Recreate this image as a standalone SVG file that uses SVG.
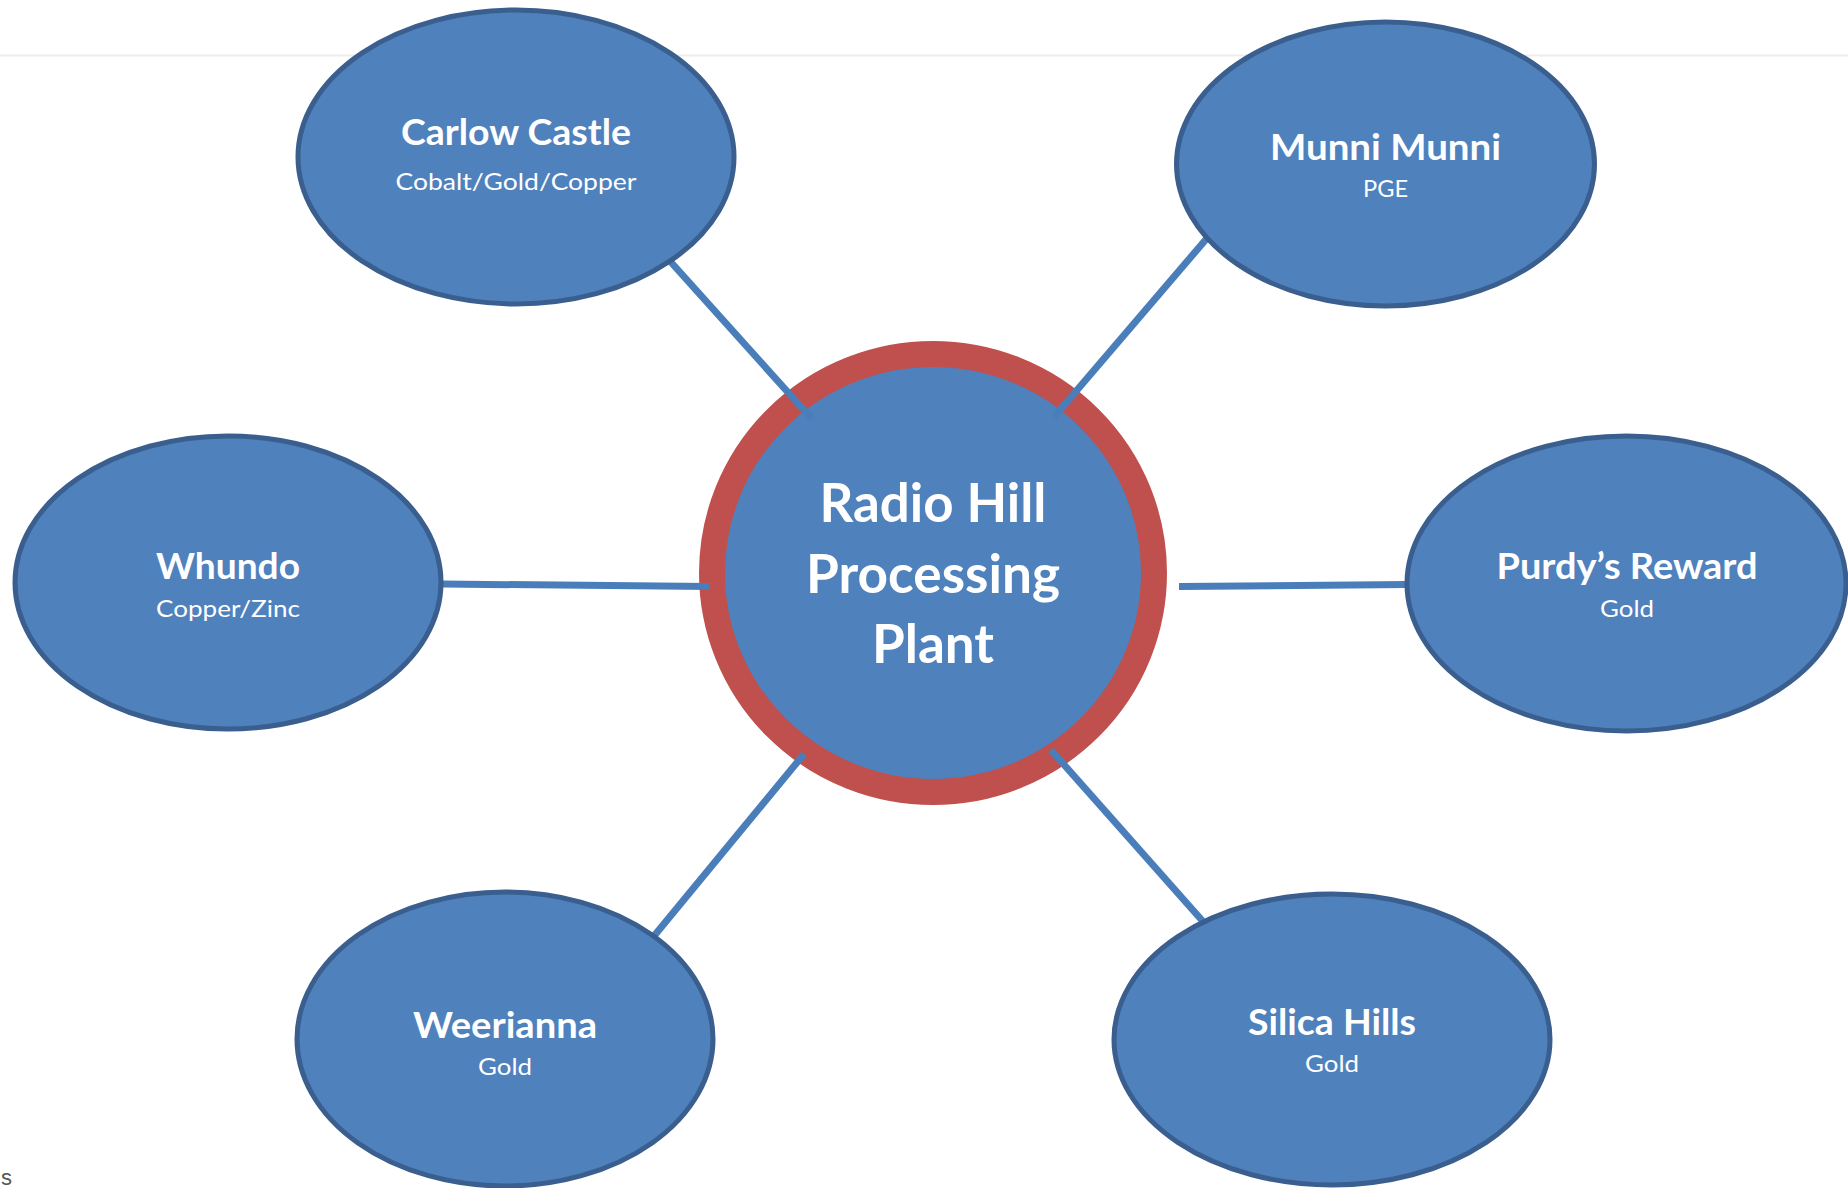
<svg xmlns="http://www.w3.org/2000/svg" width="1848" height="1188" viewBox="0 0 1848 1188">
<style>
.node{fill:#4f81bd;stroke:#3a5f8f;stroke-width:5}
.hub{fill:#4f81bd;stroke:#c0504d;stroke-width:26}
.conn{stroke:#4a7ebb;stroke-width:7;fill:none}
text{font-family:Lato,"Open Sans","Liberation Sans",sans-serif;fill:#ffffff;text-anchor:middle}
.t{font-weight:bold;font-size:36px}
.s{font-size:24px}
.h{font-weight:bold;font-size:53px}
</style>
<rect x="0" y="0" width="1848" height="1188" fill="#ffffff"/>
<line x1="0" y1="55.5" x2="1848" y2="55.5" stroke="#eeeeee" stroke-width="2"/>
<text x="1" y="1185" style="fill:#555555;font-family:'Liberation Sans',Arial,sans-serif;font-size:22px;text-anchor:start">s</text>
<g id="hub">
<ellipse class="hub" cx="933" cy="573" rx="221" ry="219"/>
<text class="h" x="933" y="522" textLength="227" lengthAdjust="spacingAndGlyphs">Radio Hill</text>
<text class="h" x="933" y="593" textLength="254" lengthAdjust="spacingAndGlyphs">Processing</text>
<text class="h" x="933" y="663" textLength="122" lengthAdjust="spacingAndGlyphs">Plant</text>
</g>
<g id="connectors">
<line class="conn" x1="669" y1="260" x2="812" y2="419"/>
<line class="conn" x1="1208" y1="237" x2="1054" y2="417"/>
<line class="conn" x1="442" y1="584" x2="710" y2="586.5"/>
<line class="conn" x1="1179" y1="586.5" x2="1407" y2="584.5"/>
<line class="conn" x1="804" y1="754" x2="654" y2="936"/>
<line class="conn" x1="1051" y1="750" x2="1207" y2="926"/>
</g>
<g id="carlow-castle">
<ellipse class="node" cx="516" cy="157" rx="218" ry="147"/>
<text class="t" x="516" y="145" textLength="230" lengthAdjust="spacingAndGlyphs">Carlow Castle</text>
<text class="s" x="516" y="190" textLength="241" lengthAdjust="spacingAndGlyphs">Cobalt/Gold/Copper</text>
</g>
<g id="munni-munni">
<ellipse class="node" cx="1385.5" cy="164" rx="209" ry="142"/>
<text class="t" x="1385.5" y="160" textLength="231" lengthAdjust="spacingAndGlyphs">Munni Munni</text>
<text class="s" x="1385.5" y="197" textLength="45" lengthAdjust="spacingAndGlyphs">PGE</text>
</g>
<g id="whundo">
<ellipse class="node" cx="228" cy="582.5" rx="213" ry="146.5"/>
<text class="t" x="228" y="579" textLength="144" lengthAdjust="spacingAndGlyphs">Whundo</text>
<text class="s" x="228" y="617" textLength="144" lengthAdjust="spacingAndGlyphs">Copper/Zinc</text>
</g>
<g id="purdys-reward">
<ellipse class="node" cx="1626.5" cy="583.5" rx="219.5" ry="147.5"/>
<text class="t" x="1627" y="579" textLength="261" lengthAdjust="spacingAndGlyphs">Purdy’s Reward</text>
<text class="s" x="1627" y="617" textLength="54" lengthAdjust="spacingAndGlyphs">Gold</text>
</g>
<g id="weerianna">
<ellipse class="node" cx="505" cy="1039" rx="208" ry="147"/>
<text class="t" x="505" y="1038" textLength="184" lengthAdjust="spacingAndGlyphs">Weerianna</text>
<text class="s" x="505" y="1075" textLength="54" lengthAdjust="spacingAndGlyphs">Gold</text>
</g>
<g id="silica-hills">
<ellipse class="node" cx="1332" cy="1039.5" rx="218" ry="145.5"/>
<text class="t" x="1332" y="1035" textLength="168" lengthAdjust="spacingAndGlyphs">Silica Hills</text>
<text class="s" x="1332" y="1072" textLength="54" lengthAdjust="spacingAndGlyphs">Gold</text>
</g>
</svg>
